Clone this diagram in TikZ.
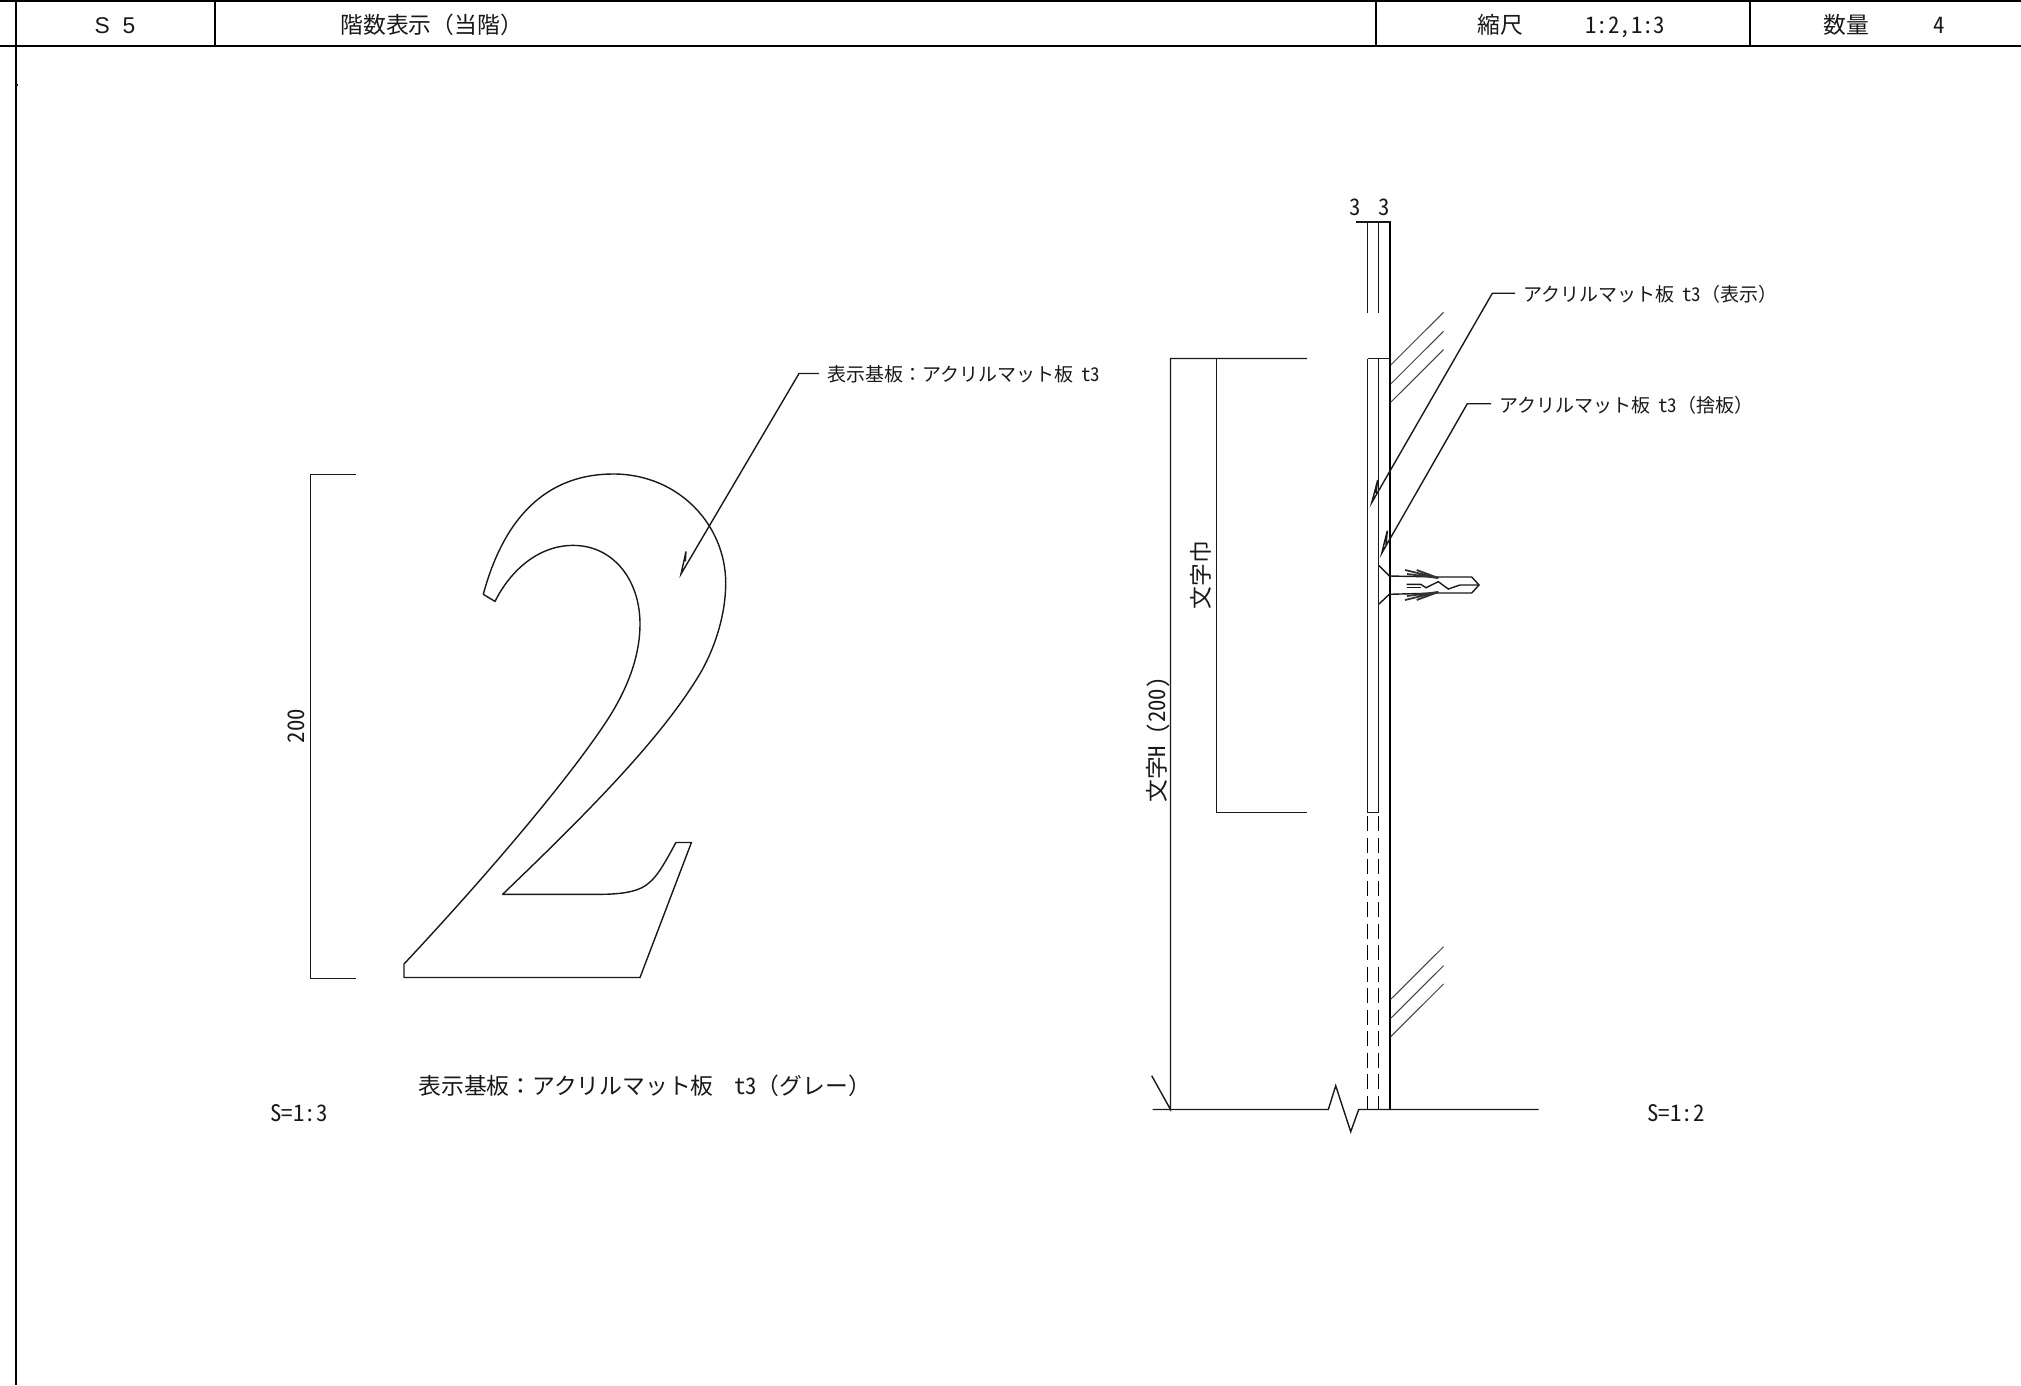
\documentclass[tikz,border=0pt]{standalone}
\usepackage{fontspec}
\setmainfont{Noto Sans CJK JP}
\newfontfamily\hwfont[RawFeature=+hwid]{Noto Sans CJK JP}
\newfontfamily\hdfont[WordSpace=2]{Liberation Sans}
\newcommand{\hw}[1]{{\hwfont #1}}

\tikzset{
  wire/.style={line width=0.7pt,color=black!90},
  heavy/.style={line width=1pt,color=black},
  hatch/.style={line width=0.5pt,color=black!75},
  hidden/.style={line width=0.8pt,color=black,dash pattern=on 7.5pt off 3.25pt},
  lblbig/.style={inner sep=0pt,text height=11pt,text depth=1.5pt,font=\fontsize{11.4pt}{13pt}\selectfont,color=black!90},
  lblsmall/.style={inner sep=4pt,anchor=west,text height=9.5pt,text depth=1.2pt,font=\fontsize{9.5pt}{11pt}\selectfont,color=black!90}
}

\begin{document}
\begin{tikzpicture}[x=0.5pt,y=-0.5pt]
\useasboundingbox (0,0) rectangle (2021,1385);

% Title block along the top and left margin.
\draw[heavy] (0,1.5) -- (2021,1.5);
\draw[heavy] (0,46.5) -- (2021,46.5);
\draw[heavy] (16,0) -- (16,1385);
\draw[heavy] (214.5,1.5) -- (214.5,46.5);
\draw[heavy] (1375.5,1.5) -- (1375.5,46.5);
\draw[heavy] (1749.5,1.5) -- (1749.5,46.5);
\draw[wire] (16,85) -- (18,85);

\node[lblbig] (partNo) at (115,24) {\hdfont S 5};
\node[lblbig,anchor=west] (partName) at (340,24) {階数表示（当階）};
\node[lblbig,anchor=west] (scaleHead) at (1477,24) {縮尺};
\node[lblbig,anchor=west] (scaleVal) at (1585,24) {\hw{1:2,1:3}};
\node[lblbig,anchor=west] (qtyHead) at (1823,24) {数量};
\node[lblbig] (qtyVal) at (1939,24) {\hw{4}};

% Numeral outline, S=1:3 side.
\draw[wire,line join=round] (483.3,594.3) .. controls (506,510) and (552.7,474) .. (613.3,474)
  .. controls (678.7,474) and (725.7,525) .. (725.7,583)
  .. controls (725.7,620) and (711.3,655) .. (699.2,675)
  .. controls (660,740) and (585.3,815) .. (502.6,894.3)
  -- (603,894.3) .. controls (627.3,894) and (641.3,890) .. (648.8,883)
  .. controls (658,876) and (667.5,858) .. (675.9,842.5)
  -- (691.4,842.5) -- (640,977.5) -- (404,977.5) -- (404,964)
  .. controls (492,870) and (576,770) .. (610.5,715)
  .. controls (632,680) and (640,650) .. (640,624)
  .. controls (640,580) and (613.3,545.4) .. (573.2,545.4)
  .. controls (538.7,545.4) and (510.7,570) .. (495,601.4) -- cycle;

% Height dimension of the numeral.
\draw[wire] (356,474.5) -- (310.5,474.5) -- (310.5,978.5) -- (356,978.5);
\node[lblbig,rotate=90] (heightDim) at (295,726) {\hw{200}};

% Leader to the numeral.
\node[lblsmall] (boardNote) at (819,373.5) {表示基板：アクリルマット板\hspace{0.42em}\hw{t3}};
\draw[wire] (boardNote.west) -- (799,373.5) -- (681,574) -- (686,551.4) -- (685.3,561.4);

\node[lblbig,anchor=west] (boardTitle) at (418,1085) {表示基板：アクリルマット板\hspace{0.9em}\hw{t3}（グレー）};
\node[lblbig] (leftScale) at (299,1112) {\hw{S=1:3}};

% Section side: plates and wall.
\draw[wire] (1356,222) -- (1391,222);
\draw[wire] (1367.5,222) -- (1367.5,313.3);
\draw[wire] (1378.5,222) -- (1378.5,313.3);
\draw[heavy] (1390,222) -- (1390,1109);
\draw[wire] (1367.5,358.5) -- (1390,358.5);
\draw[wire] (1367.5,358.5) -- (1367.5,812.5) -- (1378.5,812.5) -- (1378.5,358.5);
\draw[hidden] (1367.5,816) -- (1367.5,1109);
\draw[hidden] (1378.5,816) -- (1378.5,1109);
\node[lblbig] (dimA) at (1355,206.5) {\hw{3}};
\node[lblbig] (dimB) at (1384,206.5) {\hw{3}};

% Wall hatching above and below.
\foreach \yo in {0,19,37.3} {
  \draw[hatch] (1390.7,365+\yo) -- (1443.5,312.3+\yo);
  \draw[hatch] (1390.7,999.3+\yo) -- (1443.5,946.7+\yo);
}

% Ground line with break mark.
\draw[wire] (1152.7,1109.5) -- (1328.3,1109.5) -- (1335.7,1085.7) -- (1350.7,1131.7) -- (1358.7,1109.5) -- (1538.7,1109.5);

% Dimension lines, section side.
\draw[wire] (1307,358.5) -- (1170.5,358.5) -- (1170.5,1109.5) -- (1151.7,1075.7);
\draw[wire] (1216.5,358.5) -- (1216.5,812.5) -- (1306.7,812.5);
\node[lblbig,rotate=90] (widthDim) at (1200,575) {文字巾};
\node[lblbig,rotate=90] (charDim) at (1155.5,740) {文字\hw{H (200)}};

% Leaders to the plates.
\node[lblsmall] (plateNote) at (1515,293.3) {アクリルマット板\hspace{0.42em}\hw{t3}（表示）};
\draw[wire] (plateNote.west) -- (1492.3,293.3) -- (1371.7,502.7) -- (1377.7,480) -- (1376,493);
\node[lblsmall] (backNote) at (1491,403.7) {アクリルマット板\hspace{0.42em}\hw{t3}（捨板）};
\draw[wire] (backNote.west) -- (1467.3,403.7) -- (1381.7,553.3) -- (1387.3,530.7) -- (1386,545);

% Fastener, barbs mirrored about its axis.
\draw[wire] (1379,565.7) -- (1389.3,576) -- (1438.3,577) -- (1471.7,577) -- (1479,585) -- (1471.7,593) -- (1438.3,593) -- (1389.3,594.3) -- (1379,604);
\foreach \sgn in {1,-1} {
  \draw[line width=0.9pt,color=black!80] (1405,585-15*\sgn) -- (1438.3,585-7*\sgn) -- (1407,585-11*\sgn);
  \draw[line width=0.9pt,color=black!80] (1416.7,585-15*\sgn) -- (1438.3,585-7*\sgn) -- (1419,585-11*\sgn);
}
\draw[wire] (1406.7,584.3) -- (1420.7,584.3) -- (1426,587.7) -- (1438.3,581.7) -- (1448.3,589) -- (1460,585) -- (1479,585);
\draw[wire] (1406.7,587.5) -- (1421,587.5);

\node[lblbig] (rightScale) at (1676,1112) {\hw{S=1:2}};
\end{tikzpicture}
\end{document}
